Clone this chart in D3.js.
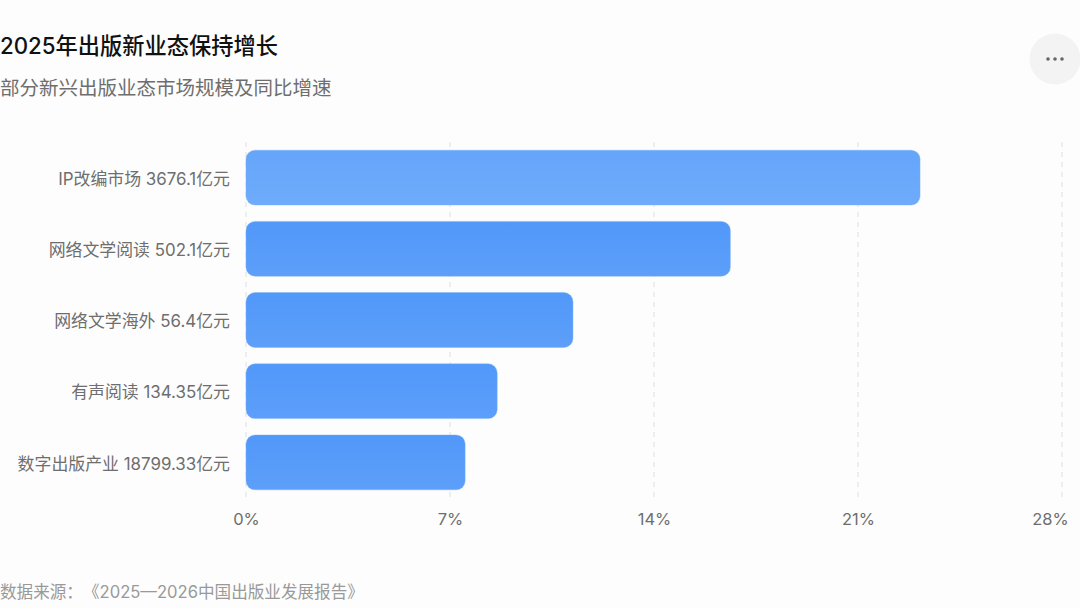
<!DOCTYPE html>
<html>
<head>
<meta charset="utf-8">
<script src="https://cdn.jsdelivr.net/npm/d3@7"></script>
<style>
  html, body { margin: 0; padding: 0; background: #fdfdfd; }
  svg { display: block; font-family: Inter, "Noto Sans CJK SC", sans-serif; }
</style>
</head>
<body>
<div id="chart"></div>
<script>
const categories = ["IP改编市场 3676.1亿元", "网络文学阅读 502.1亿元", "网络文学海外 56.4亿元", "有声阅读 134.35亿元", "数字出版产业 18799.33亿元"];
const growth = [23.13, 16.62, 11.22, 8.62, 7.52];
const xTicks = [0, 7, 14, 21, 28];
const titleText = "2025年出版新业态保持增长";
const subtitleText = "部分新兴出版业态市场规模及同比增速";
const sourceText = "数据来源：《2025—2026中国出版业发展报告》";

const width = 1080, height = 608;
const fontStack = "Inter, \"Noto Sans CJK SC\", sans-serif";

const svg = d3.select("#chart").append("svg")
  .attr("width", width)
  .attr("height", height);

svg.append("rect").attr("width", width).attr("height", height).attr("fill", "#fdfdfd");

// gradients: first bar is a bit lighter than the others
const defs = svg.append("defs");
function addGradient(id, top, bottom) {
  const g = defs.append("linearGradient").attr("id", id)
    .attr("x1", 0).attr("y1", 0).attr("x2", 0).attr("y2", 1);
  g.append("stop").attr("offset", "0%").attr("stop-color", top);
  g.append("stop").attr("offset", "100%").attr("stop-color", bottom);
}
addGradient("barFirst", "#65a5fa", "#6eabfb");
addGradient("barRest", "#5198f9", "#5d9ff9");

// title block
svg.append("text").attr("x", 0).attr("y", 54)
  .attr("font-size", 22.25).attr("font-weight", 500).attr("fill", "#111").text(titleText);
svg.append("text").attr("x", 0).attr("y", 95)
  .attr("font-size", 19.5).attr("fill", "#6e6e6e").text(subtitleText);

// more button
svg.append("circle").attr("cx", 1055).attr("cy", 59).attr("r", 25.5).attr("fill", "#f3f3f3");
[-7, 0, 7].forEach(dx => {
  svg.append("circle").attr("cx", 1055 + dx).attr("cy", 59).attr("r", 1.8).attr("fill", "#666");
});

// scales
const x = d3.scaleLinear().domain([0, 28]).range([246, 1062]);
const y = d3.scaleBand().domain(categories).range([142, 498]).paddingInner(0.23).paddingOuter(0.115);

// grid
svg.append("g").selectAll("line")
  .data(xTicks)
  .enter()
  .append("line")
  .attr("x1", d => x(d)).attr("x2", d => x(d))
  .attr("y1", 142).attr("y2", 498)
  .attr("stroke", "#e4e4e4")
  .attr("stroke-width", 1.2)
  .attr("stroke-dasharray", "5 5");

// bars
svg.selectAll(".bar")
  .data(growth)
  .enter()
  .append("rect")
  .attr("class", "bar")
  .attr("x", x(0))
  .attr("y", (d, i) => y(categories[i]))
  .attr("width", d => x(d) - x(0))
  .attr("height", y.bandwidth())
  .attr("rx", 9)
  .attr("fill", (d, i) => i === 0 ? "url(#barFirst)" : "url(#barRest)")
  .attr("stroke", "#78b2fb")
  .attr("stroke-opacity", 0.4)
  .attr("stroke-width", 1);

// y axis
const yAxis = svg.append("g")
  .attr("transform", "translate(246,0)")
  .call(d3.axisLeft(y).tickSize(0).tickPadding(16));
yAxis.select(".domain").remove();
yAxis.selectAll("text")
  .attr("font-family", fontStack)
  .attr("font-size", 16.9)
  .attr("dy", "0.42em")
  .attr("fill", "#6e6e6e");

// x axis
const xAxis = svg.append("g")
  .attr("transform", "translate(0,498)")
  .call(d3.axisBottom(x).tickValues(xTicks).tickFormat(d => d + "%").tickSize(0).tickPadding(15));
xAxis.select(".domain").remove();
xAxis.selectAll("text")
  .attr("font-family", fontStack)
  .attr("font-size", 16.5)
  .attr("fill", "#6e6e6e");
// last label is pulled in so it stays on the page
xAxis.selectAll("text").filter(d => d === 28).attr("x", -12);

// source
svg.append("text").attr("x", 0).attr("y", 598)
  .attr("font-size", 16.6)
  .style("text-spacing-trim", "space-all")
  .attr("fill", "#999").text(sourceText);
</script>
</body>
</html>
